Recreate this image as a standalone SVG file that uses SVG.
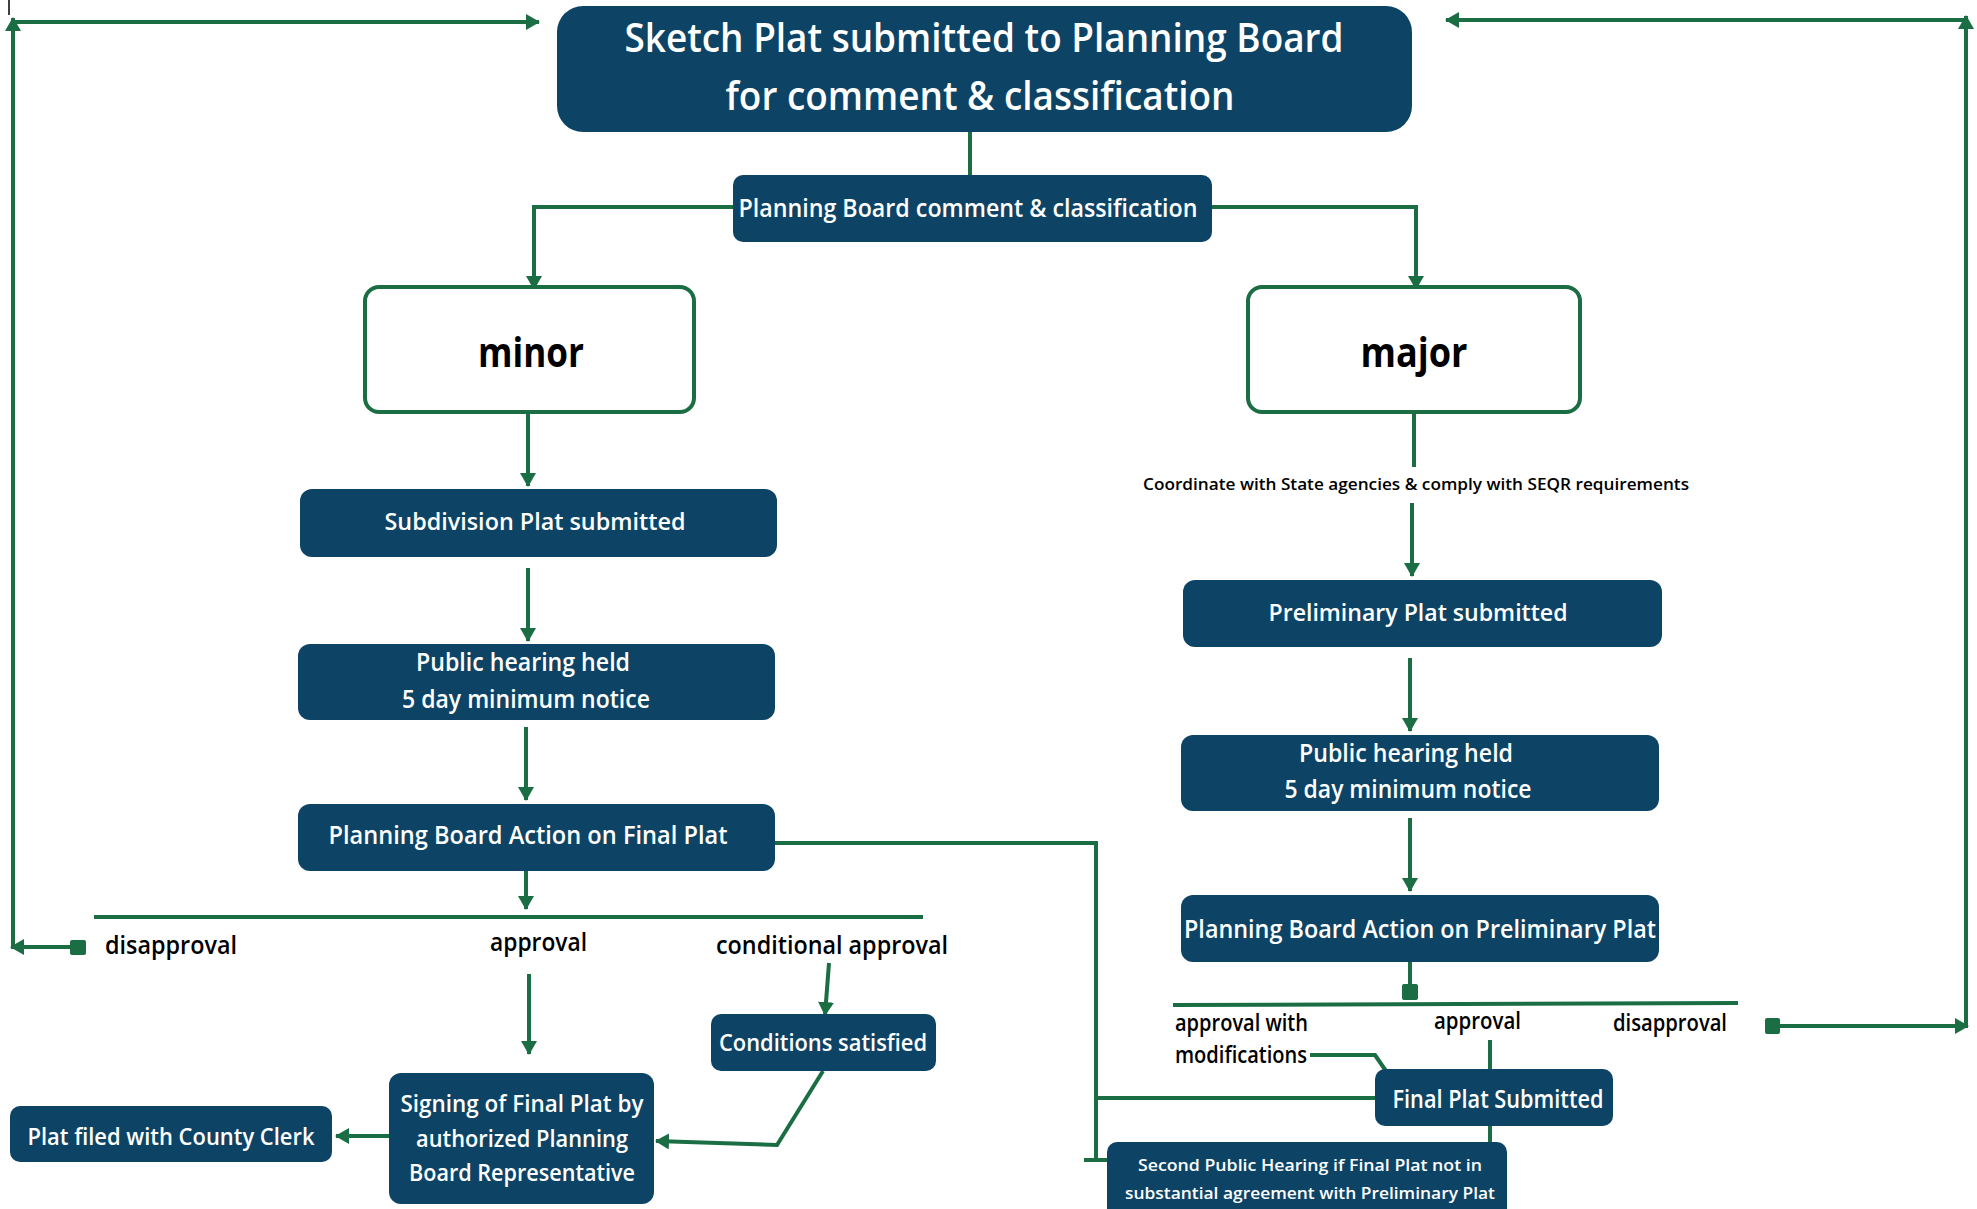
<svg xmlns="http://www.w3.org/2000/svg" width="1977" height="1209" viewBox="0 0 1977 1209">
<style>
.box{fill:#0d4466;}
.wbox{fill:#ffffff;stroke:#1b6e43;stroke-width:4;}
.t{fill:#ffffff;font-family:"Open Sans","Liberation Sans",sans-serif;font-weight:600;text-anchor:middle;}
.k{fill:#000000;font-family:"Open Sans","Liberation Sans",sans-serif;font-weight:600;}
.big{fill:#000000;font-family:"Open Sans","Liberation Sans",sans-serif;font-weight:700;text-anchor:middle;}
.c{fill:none;stroke:#1b6e43;stroke-width:4;}
.a{marker-end:url(#arr);}
.sq{fill:#1b6e43;}
</style>
<defs>
<marker id="arr" markerUnits="userSpaceOnUse" markerWidth="14" markerHeight="16" refX="13" refY="8" orient="auto" viewBox="0 0 14 16">
<path d="M0,0 L14,8 L0,16 z" fill="#1b6e43"/>
</marker>
</defs>
<line x1="9" y1="0" x2="9" y2="15" stroke="#000" stroke-width="1.5"/>
<g id="connectors">
<line class="c" x1="970" y1="132" x2="970" y2="175"/>
<path class="c a" d="M733,207 H534 V289"/>
<path class="c a" d="M1212,207 H1416 V289"/>
<line class="c a" x1="528" y1="412" x2="528" y2="486"/>
<line class="c a" x1="528" y1="568" x2="528" y2="641"/>
<line class="c a" x1="526" y1="727" x2="526" y2="800"/>
<line class="c a" x1="526" y1="871" x2="526" y2="909"/>
<line class="c" x1="94" y1="917" x2="923" y2="917"/>
<rect class="sq" x="70" y="940" width="16" height="15" rx="2"/>
<line class="c a" x1="72" y1="947" x2="11" y2="947"/>
<line class="c a" x1="13" y1="947" x2="13" y2="18"/>
<line class="c a" x1="11" y1="22" x2="539" y2="22"/>
<line class="c a" x1="529" y1="974" x2="529" y2="1054"/>
<line class="c a" x1="829" y1="963" x2="825" y2="1015"/>
<path class="c a" d="M823,1071 L777,1145 L656,1141"/>
<line class="c a" x1="389" y1="1136" x2="336" y2="1136"/>
<path class="c" d="M775,843 H1096 V1160"/>
<line class="c" x1="1084" y1="1160" x2="1108" y2="1160"/>
<line class="c" x1="1096" y1="1098" x2="1375" y2="1098"/>
<line class="c" x1="1414" y1="412" x2="1414" y2="467"/>
<line class="c a" x1="1412" y1="503" x2="1412" y2="576"/>
<line class="c a" x1="1410" y1="658" x2="1410" y2="731"/>
<line class="c a" x1="1410" y1="818" x2="1410" y2="891"/>
<line class="c" x1="1410" y1="962" x2="1410" y2="986"/>
<rect class="sq" x="1402" y="984" width="16" height="16" rx="2"/>
<line class="c" x1="1173" y1="1005" x2="1738" y2="1003"/>
<rect class="sq" x="1765" y="1018" width="15" height="16" rx="2"/>
<line class="c a" x1="1778" y1="1026" x2="1968" y2="1026"/>
<line class="c a" x1="1966" y1="1026" x2="1966" y2="16"/>
<line class="c a" x1="1968" y1="20" x2="1446" y2="20"/>
<line class="c" x1="1490" y1="1040" x2="1490" y2="1069"/>
<path class="c" d="M1310,1055 H1375 L1386,1071"/>
<line class="c" x1="1490" y1="1126" x2="1490" y2="1142"/>
</g>
<g id="sketch">
<rect class="box" x="557" y="6" width="855" height="126" rx="26"/>
<text class="t" x="984" y="52" font-size="39" textLength="719" lengthAdjust="spacingAndGlyphs">Sketch Plat submitted to Planning Board</text>
<text class="t" x="980" y="110" font-size="39" textLength="509" lengthAdjust="spacingAndGlyphs">for comment &amp; classification</text>
</g>
<g id="pbcomment">
<rect class="box" x="733" y="175" width="479" height="67" rx="10"/>
<text class="t" x="968" y="217" font-size="26" textLength="459" lengthAdjust="spacingAndGlyphs">Planning Board comment &amp; classification</text>
</g>
<g id="minor">
<rect class="wbox" x="365" y="287" width="329" height="125" rx="14"/>
<text class="big" x="531" y="367" font-size="42" textLength="106" lengthAdjust="spacingAndGlyphs">minor</text>
</g>
<g id="major">
<rect class="wbox" x="1248" y="287" width="332" height="125" rx="14"/>
<text class="big" x="1414" y="367" font-size="42" textLength="107" lengthAdjust="spacingAndGlyphs">major</text>
</g>
<g id="subdivision">
<rect class="box" x="300" y="489" width="477" height="68" rx="12"/>
<text class="t" x="535" y="530" font-size="24" textLength="301" lengthAdjust="spacingAndGlyphs">Subdivision Plat submitted</text>
</g>
<g id="hearing-minor">
<rect class="box" x="298" y="644" width="477" height="76" rx="12"/>
<text class="t" x="523" y="671" font-size="25" textLength="214" lengthAdjust="spacingAndGlyphs">Public hearing held</text>
<text class="t" x="526" y="708" font-size="25" textLength="248" lengthAdjust="spacingAndGlyphs">5 day minimum notice</text>
</g>
<g id="action-final">
<rect class="box" x="298" y="804" width="477" height="67" rx="12"/>
<text class="t" x="528" y="844" font-size="25" textLength="399" lengthAdjust="spacingAndGlyphs">Planning Board Action on Final Plat</text>
</g>
<g id="minor-labels">
<text class="k" x="105" y="954" font-size="26" textLength="132" lengthAdjust="spacingAndGlyphs">disapproval</text>
<text class="k" x="490" y="951" font-size="26" textLength="97" lengthAdjust="spacingAndGlyphs">approval</text>
<text class="k" x="716" y="954" font-size="26" textLength="232" lengthAdjust="spacingAndGlyphs">conditional approval</text>
</g>
<g id="conditions">
<rect class="box" x="711" y="1014" width="225" height="57" rx="10"/>
<text class="t" x="823" y="1051" font-size="24" textLength="208" lengthAdjust="spacingAndGlyphs">Conditions satisfied</text>
</g>
<g id="signing">
<rect class="box" x="389" y="1073" width="265" height="131" rx="12"/>
<text class="t" x="522" y="1112" font-size="23" textLength="243" lengthAdjust="spacingAndGlyphs">Signing of Final Plat by</text>
<text class="t" x="522" y="1147" font-size="23" textLength="212" lengthAdjust="spacingAndGlyphs">authorized Planning</text>
<text class="t" x="522" y="1181" font-size="23" textLength="226" lengthAdjust="spacingAndGlyphs">Board Representative</text>
</g>
<g id="filed">
<rect class="box" x="10" y="1106" width="322" height="56" rx="10"/>
<text class="t" x="171" y="1145" font-size="24" textLength="287" lengthAdjust="spacingAndGlyphs">Plat filed with County Clerk</text>
</g>
<g id="seqr">
<text class="k" x="1143" y="490" font-size="17" textLength="546" lengthAdjust="spacingAndGlyphs">Coordinate with State agencies &amp; comply with SEQR requirements</text>
</g>
<g id="preliminary">
<rect class="box" x="1183" y="580" width="479" height="67" rx="12"/>
<text class="t" x="1418" y="621" font-size="24" textLength="299" lengthAdjust="spacingAndGlyphs">Preliminary Plat submitted</text>
</g>
<g id="hearing-major">
<rect class="box" x="1181" y="735" width="478" height="76" rx="12"/>
<text class="t" x="1406" y="762" font-size="25" textLength="214" lengthAdjust="spacingAndGlyphs">Public hearing held</text>
<text class="t" x="1408" y="798" font-size="25" textLength="247" lengthAdjust="spacingAndGlyphs">5 day minimum notice</text>
</g>
<g id="action-preliminary">
<rect class="box" x="1181" y="895" width="478" height="67" rx="12"/>
<text class="t" x="1420" y="938" font-size="25" textLength="472" lengthAdjust="spacingAndGlyphs">Planning Board Action on Preliminary Plat</text>
</g>
<g id="major-labels">
<text class="k" x="1175" y="1031" font-size="23" textLength="133" lengthAdjust="spacingAndGlyphs">approval with</text>
<text class="k" x="1175" y="1063" font-size="23" textLength="132" lengthAdjust="spacingAndGlyphs">modifications</text>
<text class="k" x="1434" y="1029" font-size="23" textLength="87" lengthAdjust="spacingAndGlyphs">approval</text>
<text class="k" x="1613" y="1031" font-size="23" textLength="114" lengthAdjust="spacingAndGlyphs">disapproval</text>
</g>
<g id="final-submitted">
<rect class="box" x="1375" y="1069" width="238" height="57" rx="10"/>
<text class="t" x="1498" y="1108" font-size="25" textLength="211" lengthAdjust="spacingAndGlyphs">Final Plat Submitted</text>
</g>
<g id="second-hearing">
<rect class="box" x="1107" y="1142" width="400" height="80" rx="10"/>
<text class="t" x="1310" y="1171" font-size="17" textLength="344" lengthAdjust="spacingAndGlyphs">Second Public Hearing if Final Plat not in</text>
<text class="t" x="1310" y="1199" font-size="17" textLength="370" lengthAdjust="spacingAndGlyphs">substantial agreement with Preliminary Plat</text>
</g>
</svg>
